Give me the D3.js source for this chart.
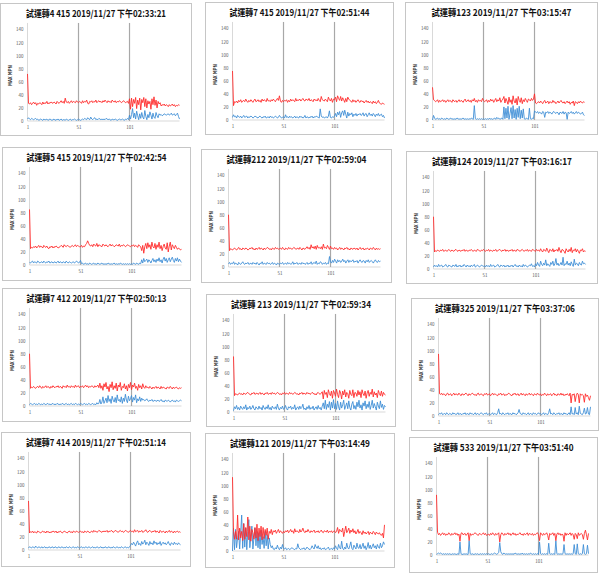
<!DOCTYPE html>
<html><head><meta charset="utf-8">
<script src="https://cdn.jsdelivr.net/npm/d3@7"></script>
<style>body{margin:0;background:#fff}svg{display:block}</style>
</head><body>
<svg id="c" width="600" height="573"></svg>
<script>
const titles = [
 "試運轉4 415  2019/11/27 下午02:33:21",
 "試運轉7 415  2019/11/27 下午02:51:44",
 "試運轉123  2019/11/27 下午03:15:47",
 "試運轉5 415  2019/11/27 下午02:42:54",
 "試運轉212  2019/11/27 下午02:59:04",
 "試運轉124  2019/11/27 下午03:16:17",
 "試運轉7 412  2019/11/27 下午02:50:13",
 "試運轉 213  2019/11/27 下午02:59:34",
 "試運轉325  2019/11/27 下午03:37:06",
 "試運轉7 414  2019/11/27 下午02:51:14",
 "試運轉121  2019/11/27 下午03:14:49",
 "試運轉 533  2019/11/27 下午03:51:40"
];
const yTicks = [0,20,40,60,80,100,120,140];
const xTickLabels = ["1","51","101"];
const yTitle = "MAX MPN";

const red1 = [72,27,26,28,25,27,29,26,28,24,27,26,28,27,25,29,26,28,27,30,26,28,27,29,28,
27,29,28,26,30,28,27,29,31,28,30,27,35,29,28,30,27,29,31,28,30,29,28,31,29,
28,30,29,27,31,28,30,29,32,27,26,30,29,31,28,30,29,32,28,30,31,29,30,28,31,
29,32,30,28,31,29,30,28,32,30,29,31,28,30,29,31,30,28,29,31,30,28,29,30,27,
34,18,35,22,33,27,36,19,32,25,35,17,33,28,36,22,34,20,31,26,30,18,34,25,37,
24,32,20,30,26,28,23,25,24,26,23,25,24,22,25,23,24,26,23,25,22,24,23,25,24];
const blue1 = [3,5,3,2,4,3,2,3,4,2,3,1,2,3,2,1,3,2,2,3,1,2,3,2,1,
2,3,1,2,2,3,1,2,3,1,2,2,1,3,2,1,2,3,1,2,2,3,2,1,2,
3,2,1,2,3,2,4,3,2,5,3,2,6,3,2,4,5,2,3,2,4,3,2,3,2,
3,2,4,3,2,3,2,1,3,2,2,3,2,1,2,3,2,2,3,2,1,3,2,4,2,
9,3,10,19,5,12,3,15,8,2,11,4,13,6,3,16,7,2,10,5,14,9,3,12,6,
4,13,8,5,11,9,10,8,9,11,10,9,10,11,9,10,12,9,10,11,8,10,12,7,3];

const red2 = [75,22,28,27,29,26,30,28,31,27,29,30,28,32,29,27,30,28,31,29,27,30,32,28,29,
31,28,30,27,32,29,31,30,28,33,29,30,28,31,29,32,30,28,31,33,30,37,29,27,30,
28,30,29,31,27,30,28,32,29,31,30,28,33,29,31,30,32,29,31,33,30,29,32,31,30,
33,29,31,30,28,32,30,31,29,33,30,28,36,31,30,29,32,30,28,35,31,29,33,27,32,
31,35,28,37,33,30,36,29,34,31,27,33,28,35,32,30,29,27,31,28,30,27,29,31,28,
27,30,28,29,26,28,30,27,29,26,28,27,25,29,26,28,25,27,30,26,25,24,26,25,24];
const blue2 = [4,8,5,6,3,7,5,4,6,3,5,7,4,5,6,3,5,4,6,5,3,4,6,5,4,
3,5,6,4,3,5,4,6,3,4,5,3,6,4,5,3,4,6,5,3,4,7,5,3,4,
5,3,8,4,5,3,6,4,5,3,4,6,3,5,4,3,6,4,5,3,4,7,3,5,4,
3,5,4,6,3,5,4,6,5,4,3,17,6,4,5,3,4,5,3,6,14,4,3,5,4,
6,10,5,12,8,13,4,11,14,7,15,9,3,12,6,10,8,11,5,9,7,10,6,9,8,
10,7,8,11,6,9,10,5,8,11,7,9,6,10,8,5,9,7,10,6,8,9,5,7,3];

const red3 = [50,31,30,28,29,31,27,30,28,29,31,28,30,27,29,31,28,30,29,27,31,29,28,30,27,
29,31,28,30,29,27,30,32,28,29,31,28,30,27,31,29,33,28,30,27,31,29,30,28,33,
30,28,29,31,27,30,28,32,29,31,27,30,33,28,31,29,34,27,30,32,36,26,33,29,24,
35,27,31,24,37,29,26,33,23,36,30,27,34,25,31,28,33,30,27,32,31,29,33,30,32,
40,26,25,27,28,26,29,27,25,28,30,26,27,29,25,28,27,26,30,27,28,25,27,29,26,
28,30,27,26,28,25,27,29,26,28,24,27,26,29,22,28,27,25,28,26,29,27,26,28,27];
const blue3 = [0,7,3,1,2,3,1,2,1,3,2,1,2,1,3,2,1,2,3,1,2,1,2,1,3,
2,1,2,1,2,3,1,2,1,2,1,2,1,3,2,1,22,2,1,2,1,2,1,2,1,
2,1,2,1,2,1,3,1,2,1,2,3,1,4,2,3,1,2,3,1,20,2,18,3,21,
1,10,19,2,22,3,16,1,18,4,21,2,15,3,17,2,1,3,2,1,18,2,1,3,2,
14,12,11,13,10,12,11,9,13,12,4,12,11,13,10,12,11,9,12,13,11,10,12,11,8,
12,11,10,13,9,12,11,1,12,10,11,13,10,12,9,11,13,10,12,11,9,10,12,8,7];

const red4 = [85,25,27,26,28,27,29,26,28,30,27,29,28,26,30,28,27,29,26,25,28,27,29,26,28,
27,29,28,26,27,28,30,29,27,31,29,28,30,29,28,27,29,30,28,29,31,28,30,29,28,
28,30,27,29,28,31,33,37,33,30,29,31,28,32,30,29,33,28,31,30,29,28,32,30,29,
31,29,28,30,32,29,31,30,28,29,31,30,29,32,28,30,29,31,30,28,29,31,30,29,28,
30,29,31,28,30,29,27,31,29,28,22,30,18,28,33,25,34,27,31,24,35,28,26,33,24,
31,27,35,25,30,22,28,32,26,24,34,20,29,35,23,31,28,25,30,27,24,26,25,23,24];
const blue4 = [4,3,5,6,3,5,4,3,6,5,3,4,5,3,6,4,3,5,4,6,3,4,5,3,4,
5,3,4,6,3,5,4,3,5,4,3,6,4,3,5,4,3,4,5,3,4,6,5,3,4,
7,2,3,1,2,3,1,2,1,3,2,1,2,3,1,2,1,3,2,1,2,3,1,2,1,
2,1,3,2,1,2,1,2,3,1,2,1,2,1,3,2,1,2,1,2,1,2,1,2,1,
2,1,3,2,1,3,2,1,3,2,8,3,10,5,7,9,4,8,6,3,7,10,5,8,4,
9,6,11,5,8,3,9,12,6,10,4,8,11,5,9,12,7,4,10,6,11,5,9,6,4];

const red5 = [80,25,28,27,26,28,29,27,26,28,30,27,28,26,29,28,27,29,28,26,27,29,28,30,27,
28,26,29,27,28,30,27,29,28,26,29,27,28,30,29,27,28,26,29,28,27,30,28,29,27,
28,29,27,30,28,26,29,28,27,30,28,29,27,28,30,29,27,28,29,27,30,28,26,29,28,
27,29,31,28,30,27,34,29,31,28,32,27,33,29,30,28,31,27,35,29,30,28,33,30,27,
32,28,29,27,30,28,29,26,28,30,27,29,28,26,29,28,30,27,28,26,29,28,27,29,28,
27,29,26,28,30,27,28,29,26,28,27,29,28,26,29,28,27,30,28,26,29,27,28,27,28];
const blue5 = [5,7,4,6,5,8,4,6,5,3,7,5,4,6,8,5,4,6,5,7,4,5,6,4,7,
5,6,4,7,5,3,6,5,8,4,6,5,4,7,5,6,4,5,7,4,6,5,3,6,5,
4,6,5,7,4,5,6,4,7,5,6,4,5,8,4,6,5,7,4,5,6,4,7,5,6,
4,5,7,4,6,5,8,4,6,7,5,9,4,6,5,8,7,4,6,5,7,4,6,5,16,
8,6,10,7,12,9,6,11,8,10,7,9,12,8,10,6,9,11,7,10,8,9,11,7,9,
8,10,6,9,11,8,7,10,9,6,10,8,11,7,9,10,8,6,9,11,8,7,10,8,9];

const red6 = [80,26,28,27,29,28,27,29,28,30,27,28,29,27,28,30,28,27,29,28,27,29,30,28,27,
29,28,27,29,28,30,27,29,28,27,29,28,30,28,27,29,28,27,30,29,28,27,29,28,30,
28,27,29,28,30,27,29,28,27,29,28,30,27,28,29,30,28,27,29,28,30,27,29,28,27,
29,28,30,27,29,28,27,30,29,28,27,29,30,28,27,29,28,30,27,29,28,27,30,29,28,
27,30,28,29,27,31,28,26,30,29,27,32,28,25,30,29,27,31,26,29,28,30,27,33,28,
25,30,29,27,24,31,28,26,30,27,33,25,29,28,31,26,30,27,24,29,28,31,26,28,27];
const blue6 = [3,6,4,5,3,7,4,5,6,3,4,5,7,4,3,6,5,4,3,6,5,4,7,3,5,
4,6,3,5,4,7,5,3,6,4,5,3,6,4,5,7,3,4,6,5,3,4,6,5,4,
5,3,6,4,5,3,7,4,5,6,3,4,5,7,4,3,6,5,4,6,3,5,4,6,3,
5,4,6,3,5,7,4,5,3,6,4,5,3,7,4,6,5,3,4,6,5,8,4,5,3,
8,5,10,6,4,12,7,5,9,6,14,5,8,6,4,10,7,12,5,8,16,6,9,5,7,
10,6,18,5,8,7,12,6,9,5,11,7,4,15,6,9,8,5,10,7,6,12,8,9,7];

const red7 = [80,27,29,28,30,28,27,29,30,28,31,29,27,30,28,29,31,28,30,29,27,30,28,31,29,
28,30,29,31,28,30,29,27,31,29,30,28,32,29,30,28,31,29,30,28,32,29,30,31,28,
30,29,31,28,30,32,29,31,28,30,29,31,30,28,31,29,30,32,28,35,27,31,24,34,29,
36,26,30,22,33,28,37,25,31,27,35,23,32,29,36,24,30,28,34,26,31,23,33,28,36,
25,32,29,35,27,30,24,33,28,31,26,34,29,27,31,28,29,27,30,28,26,29,27,28,30,
27,29,28,26,30,27,29,28,27,26,29,28,27,30,28,26,29,27,28,29,27,26,28,27,28];
const blue7 = [2,4,3,2,3,4,2,3,2,4,3,2,3,2,4,3,2,3,4,2,3,2,3,4,2,
3,2,4,3,2,3,2,4,3,2,3,4,2,3,2,3,4,2,3,2,4,3,2,3,2,
4,3,2,3,4,2,3,2,4,3,2,3,4,2,3,2,5,3,4,10,3,6,14,4,8,
12,5,16,7,11,4,15,9,6,13,5,17,8,10,6,14,4,12,7,18,9,5,15,8,11,
16,6,13,9,17,5,11,8,14,7,12,9,10,8,9,11,8,7,9,8,10,7,8,9,7,
8,9,7,8,10,7,8,6,9,8,7,9,8,6,8,9,7,8,6,9,8,7,8,9,8];

const red8 = [85,25,28,27,26,28,29,27,28,26,29,28,27,29,30,28,27,26,29,28,30,27,28,29,27,
28,30,27,29,28,26,29,28,30,27,28,29,27,30,28,29,27,28,30,29,27,28,26,29,28,
30,27,29,28,27,30,28,29,27,28,30,29,27,28,26,29,28,30,27,29,28,27,30,28,29,
27,28,30,29,27,28,26,29,30,28,27,29,31,20,33,27,30,22,34,28,25,32,21,33,29,
24,35,27,22,33,29,20,32,26,34,23,30,28,21,33,27,25,34,22,30,29,24,33,26,31,
22,34,28,25,32,21,29,33,24,30,27,35,23,31,26,29,22,33,28,25,32,24,30,27,26];
const blue8 = [2,8,5,10,4,7,3,9,6,4,8,5,11,3,7,5,9,4,6,10,5,3,8,6,4,
9,5,7,3,10,6,4,8,5,11,4,7,3,9,6,5,8,4,12,6,3,7,5,9,4,
6,10,5,3,8,6,9,4,7,5,11,3,6,8,4,9,5,7,12,4,6,3,8,5,10,
4,7,5,9,3,6,8,4,10,5,7,3,9,14,5,18,4,12,7,16,3,15,6,19,5,
13,4,17,8,3,15,6,11,18,4,9,14,5,17,7,3,12,16,5,10,4,15,8,18,6,
11,3,14,9,17,5,12,7,16,4,10,18,6,13,8,3,15,9,5,17,7,12,4,10,8];

const red9 = [95,34,33,35,32,34,33,31,34,35,32,33,34,31,33,35,32,34,33,32,35,33,31,34,33,
32,34,35,33,31,34,32,33,35,34,32,33,31,34,35,32,33,34,32,31,34,33,35,32,33,
34,31,33,35,32,34,33,32,31,34,33,35,32,33,34,31,33,32,34,35,33,32,31,34,33,
35,32,33,34,31,33,35,32,34,33,31,34,32,33,35,32,34,33,31,34,33,32,35,33,32,
34,31,33,32,35,33,31,34,32,33,34,31,33,35,32,33,31,34,33,32,35,32,34,31,33,
32,34,33,31,35,20,33,32,34,22,31,35,33,20,34,32,33,31,21,34,30,32,28,24,31];
const blue9 = [2,4,3,5,2,3,4,2,5,3,2,4,3,2,5,3,4,2,3,5,2,4,3,2,4,
3,5,2,4,3,2,5,3,4,2,3,5,2,4,3,2,4,5,3,2,4,3,5,2,3,
4,2,3,5,2,4,3,2,5,11,3,4,2,5,3,2,4,3,5,2,4,3,2,5,3,
4,2,3,5,10,4,3,2,5,3,4,2,3,5,2,4,3,2,5,3,4,2,3,5,3,
4,2,3,5,2,4,3,2,5,11,3,4,2,5,3,2,4,3,5,2,4,3,2,5,3,
4,2,3,5,2,14,3,4,2,13,3,5,2,15,4,3,2,5,12,3,4,13,3,2,14];

const red10 = [75,26,28,27,29,26,28,27,26,29,28,27,26,28,29,27,28,26,29,27,28,26,28,27,29,
28,27,29,26,28,27,29,28,26,27,29,28,27,26,28,29,27,28,26,29,28,27,29,28,27,
28,29,27,28,26,29,28,27,29,28,26,28,29,27,30,28,29,27,28,30,29,28,27,29,28,
29,28,30,27,29,28,30,29,27,28,30,29,28,27,29,30,28,29,27,28,30,29,28,27,29,
30,28,29,27,31,28,29,30,27,29,28,30,27,28,29,31,28,27,29,30,28,27,29,28,30,
27,29,28,26,30,28,27,29,28,26,29,27,28,30,27,29,28,26,29,27,28,29,27,28,27];
const blue10 = [3,5,4,3,5,4,3,6,4,3,5,4,3,5,3,4,5,3,4,3,5,4,3,5,4,
3,5,4,3,4,5,3,4,5,3,4,3,5,4,3,5,4,3,4,5,3,4,3,5,4,
3,4,5,3,4,3,5,4,3,5,4,3,4,5,3,4,3,5,4,3,4,5,3,4,3,
5,4,3,4,5,3,4,3,5,4,3,4,5,3,4,3,5,4,3,4,5,3,4,3,5,
7,10,8,12,9,6,11,14,8,10,7,13,9,11,15,8,12,10,7,13,9,11,8,14,10,
12,8,11,9,13,7,10,12,9,11,8,10,13,9,7,11,10,8,12,9,10,8,11,9,8];

const red11 = [113,30,18,30,18,55,17,35,20,30,16,42,18,36,22,52,17,38,15,33,28,18,36,20,41,
16,35,22,38,17,36,19,33,24,35,18,30,27,33,25,31,29,32,27,30,33,28,31,29,27,
30,28,31,29,32,28,30,33,29,31,27,34,29,31,30,28,33,29,31,35,30,28,31,29,33,
30,28,31,29,30,32,28,30,29,31,28,30,32,29,28,31,30,29,32,28,30,29,31,28,30,
31,28,30,36,27,33,31,29,35,22,30,38,28,31,35,27,32,29,34,28,31,26,29,33,27,
30,28,25,31,27,29,26,28,30,25,29,27,26,30,28,25,29,27,26,28,25,24,27,20,40];
const blue11 = [0,35,2,33,5,20,30,3,28,55,4,42,6,35,2,30,48,5,22,38,3,20,35,8,30,
5,28,3,32,10,22,4,30,8,25,3,20,10,5,8,3,2,5,3,9,4,2,6,3,10,
4,3,5,2,3,4,2,3,5,4,3,2,4,3,11,5,3,2,4,3,5,2,3,6,4,
3,2,4,8,5,3,10,6,4,8,3,5,2,4,3,5,2,3,4,6,2,3,4,2,5,
3,8,4,2,10,5,3,15,4,2,6,3,12,5,3,8,14,4,2,9,6,3,12,5,4,
10,3,7,12,4,8,2,6,13,4,9,3,7,11,5,8,3,10,6,4,12,5,8,14,10];

const red12 = [92,35,31,33,30,32,34,31,33,30,32,31,34,32,30,33,31,32,34,31,33,30,32,21,33,
34,31,32,33,30,32,34,22,33,30,32,31,33,34,32,31,30,33,32,31,32,34,31,33,30,
31,32,30,33,31,34,32,30,33,31,32,34,20,31,34,32,30,33,31,32,34,31,33,30,32,
34,31,33,30,32,31,33,34,31,32,30,33,31,32,34,30,33,32,31,33,30,32,31,33,34,
31,22,34,32,30,33,31,32,34,30,23,33,31,32,34,30,33,22,32,34,31,33,30,32,31,
21,34,30,33,31,32,34,30,33,31,24,33,31,25,34,30,32,33,31,24,33,38,31,23,33];
const blue12 = [1,2,3,2,3,2,1,2,1,2,1,2,1,2,1,1,2,1,2,1,1,2,1,20,2,
1,1,2,1,2,1,1,22,2,1,2,1,1,2,1,2,1,1,2,1,2,1,2,1,2,
1,2,1,1,2,1,2,3,2,1,2,4,19,5,2,1,3,2,1,2,1,2,1,2,1,
2,1,3,2,1,2,1,2,1,3,1,2,1,2,1,2,1,3,2,1,2,1,2,1,2,
1,20,2,1,2,1,2,1,2,1,18,2,1,2,1,2,1,22,2,1,2,1,2,1,2,
16,2,1,2,1,2,1,2,1,2,16,2,1,17,2,1,2,1,2,16,2,1,2,15,2];

const redSeries = [red1,red2,red3,red4,red5,red6,red7,red8,red9,red10,red11,red12];
const blueSeries = [blue1,blue2,blue3,blue4,blue5,blue6,blue7,blue8,blue9,blue10,blue11,blue12];

// layout: panel frames [x, y, w, h]
const frames = [
 [0.5,3.5,191,132],[205.5,2.5,188,132],[405.5,2.5,192,132],
 [2.5,147.5,188,133],[201.5,149.5,190,133],[406.5,151.5,191,132],
 [2.5,288.5,188,133],[206.5,294.5,189,132],[411.5,298.5,187,132],
 [1.5,432.5,189,134],[205.5,433.5,189,134],[409.5,437.5,188,135]
];

const svg = d3.select("#c");
const sansFont = "'Noto Sans CJK TC','Noto Sans',sans-serif";

frames.forEach((f, i) => {
  const [fx, fy, fw, fh] = f;
  const g = svg.append("g");
  g.append("rect").attr("x", fx).attr("y", fy).attr("width", fw).attr("height", fh)
    .attr("fill", "#fff").attr("stroke", "#c6c6c6").attr("stroke-width", 1);

  g.append("text").attr("x", fx + fw/2).attr("y", fy + 13)
    .attr("text-anchor", "middle").attr("font-family", sansFont)
    .attr("font-weight", "bold").attr("font-size", 9.5).attr("fill", "#111")
    .attr("textLength", 140).attr("lengthAdjust", "spacingAndGlyphs")
    .text(titles[i]);

  const n = redSeries[i].length;
  const x = d3.scaleLinear().domain([1, 150]).range([fx + 27, fx + 179]);
  const y = d3.scaleLinear().domain([0, 140]).range([fy + 117.5, fy + 26]);

  // y ticks labels
  const yAxis = d3.axisLeft(y).tickValues(yTicks).tickSize(0).tickPadding(0);
  const ya = g.append("g").attr("transform", `translate(${fx + 23},0)`).call(yAxis);
  ya.select(".domain").remove();
  ya.selectAll("text").attr("font-size", 4.5).attr("fill", "#595959")
    .attr("font-family", sansFont);

  // x tick labels
  const xAxis = d3.axisBottom(x).tickValues(xTickLabels.map(Number)).tickSize(0).tickPadding(0)
    .tickFormat((d, k) => xTickLabels[k]);
  const xa = g.append("g").attr("transform", `translate(0,${fy + 122})`).call(xAxis);
  xa.select(".domain").remove();
  xa.selectAll("text").attr("font-size", 4.5).attr("fill", "#595959")
    .attr("font-family", sansFont);

  // y title
  g.append("text").attr("transform", `translate(${fx + 11},${fy + 72}) rotate(-90)`)
    .attr("text-anchor", "middle").attr("font-family", sansFont).attr("font-weight", "bold")
    .attr("font-size", 4.5).attr("fill", "#222").text(yTitle);

  // baseline and gridlines
  g.append("line").attr("x1", x(1)).attr("x2", x(150)).attr("y1", y(0)).attr("y2", y(0))
    .attr("stroke", "#d9d9d9").attr("stroke-width", 1);
  g.append("line").attr("x1", x(1)).attr("x2", x(1)).attr("y1", y(150)).attr("y2", y(0))
    .attr("stroke", "#d9d9d9").attr("stroke-width", 1);
  [51, 101].forEach(v => {
    g.append("line").attr("x1", x(v)).attr("x2", x(v)).attr("y1", y(150)).attr("y2", y(0))
      .attr("stroke", "#a8a8a8").attr("stroke-width", 1.2);
  });

  const line = d3.line().x((d, k) => x(k + 1)).y(d => y(d));
  g.append("path").datum(blueSeries[i]).attr("d", line).attr("fill", "none")
    .attr("stroke", "#3f8fd6").attr("stroke-width", 0.9);
  g.append("path").datum(redSeries[i]).attr("d", line).attr("fill", "none")
    .attr("stroke", "#ff2b2b").attr("stroke-width", 0.9);
});
</script>
</body></html>
